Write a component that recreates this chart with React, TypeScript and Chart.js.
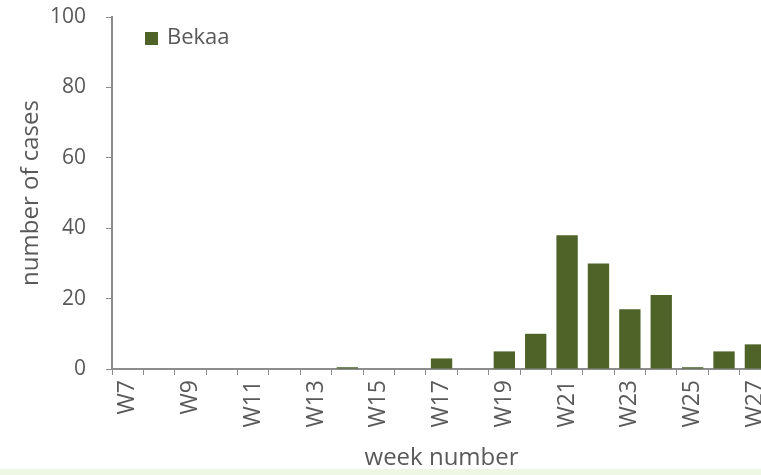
import React, { useEffect, useRef } from "react";
import { Chart, registerables } from "chart.js";

Chart.register(...registerables);

const weeks = ["W7","W8","W9","W10","W11","W12","W13","W14","W15","W16","W17","W18","W19","W20","W21","W22","W23","W24","W25","W26","W27"];
const bekaa = [0,0,0,0,0,0,0,0.5,0,0,3,0,5,10,38,30,17,21,0.5,5,7];
const yTicks = [0,20,40,60,80,100];
const seriesName = "Bekaa";
const xTitle = "week number";
const yTitle = "number of cases";

const FONT = "'Open Sans', 'Liberation Sans', sans-serif";
const BAR = "#4f6228";
const AXIS = "#8c8c8c";
const TEXT = "#595959";

const legendPlugin = {
  id: "insideLegend",
  afterDraw(chart: any) {
    const ctx = chart.ctx;
    const area = chart.chartArea;
    ctx.save();
    const x = area.left + 33;
    const y = area.top + 21;
    ctx.fillStyle = BAR;
    ctx.fillRect(x, y - 6, 13, 13);
    ctx.fillStyle = TEXT;
    ctx.font = "22px " + FONT;
    ctx.textBaseline = "middle";
    ctx.textAlign = "left";
    ctx.fillText(seriesName, x + 22, y);
    ctx.restore();
  },
};

export default function App() {
  const ref = useRef<HTMLCanvasElement>(null);
  useEffect(() => {
    if (!ref.current) return;
    const chart = new Chart(ref.current, {
      type: "bar",
      data: {
        labels: weeks,
        datasets: [
          {
            label: seriesName,
            data: bekaa,
            backgroundColor: BAR,
            barPercentage: 0.68,
            categoryPercentage: 1,
          },
        ],
      },
      plugins: [legendPlugin],
      options: {
        animation: false,
        responsive: true,
        maintainAspectRatio: false,
        layout: { padding: { top: 17, right: 0, left: 0, bottom: 0 } },
        plugins: {
          legend: { display: false },
          tooltip: { enabled: false },
        },
        scales: {
          x: {
            afterFit: (axis: any) => { axis.height = 106; },
            grid: {
              display: true,
              offset: true,
              drawOnChartArea: false,
              drawTicks: true,
              tickLength: 6,
              color: AXIS,
            },
            border: { display: true, color: AXIS, width: 2 },
            ticks: {
              autoSkip: false,
              maxRotation: 90,
              minRotation: 90,
              padding: 5,
              color: TEXT,
              font: { family: FONT, size: 23 },
              callback: (_v: any, i: number) => (i % 2 === 0 ? weeks[i] : ""),
            },
            title: {
              display: true,
              text: xTitle,
              color: TEXT,
              font: { family: FONT, size: 24 },
              padding: { top: 0, bottom: 2 },
            },
          },
          y: {
            min: 0,
            max: 100,
            afterFit: (axis: any) => {
              axis.width = 112;
              axis.paddingTop = 10;
              axis.paddingBottom = 10;
            },
            afterBuildTicks: (axis: any) => { axis.ticks = yTicks.map((v) => ({ value: v })); },
            grid: {
              display: true,
              drawOnChartArea: false,
              drawTicks: true,
              tickLength: 6,
              color: AXIS,
            },
            border: { display: true, color: AXIS, width: 2 },
            ticks: {
              padding: 20,
              color: TEXT,
              font: { family: FONT, size: 21 },
            },
            title: {
              display: true,
              text: yTitle,
              color: TEXT,
              font: { family: FONT, size: 24 },
              padding: { top: 17, bottom: 0 },
            },
          },
        },
      },
    });
    return () => chart.destroy();
  }, []);
  return (
    <div style={{ position: "fixed", left: 0, top: 0, width: 761, height: 475, overflow: "hidden", background: "#ffffff" }}>
      <div style={{ position: "absolute", left: 0, top: 0, width: 788, height: 475 }}>
        <canvas ref={ref} />
      </div>
      <div style={{ position: "absolute", left: 0, bottom: 0, width: 761, height: 6, background: "#eef6e4" }} />
    </div>
  );
}
